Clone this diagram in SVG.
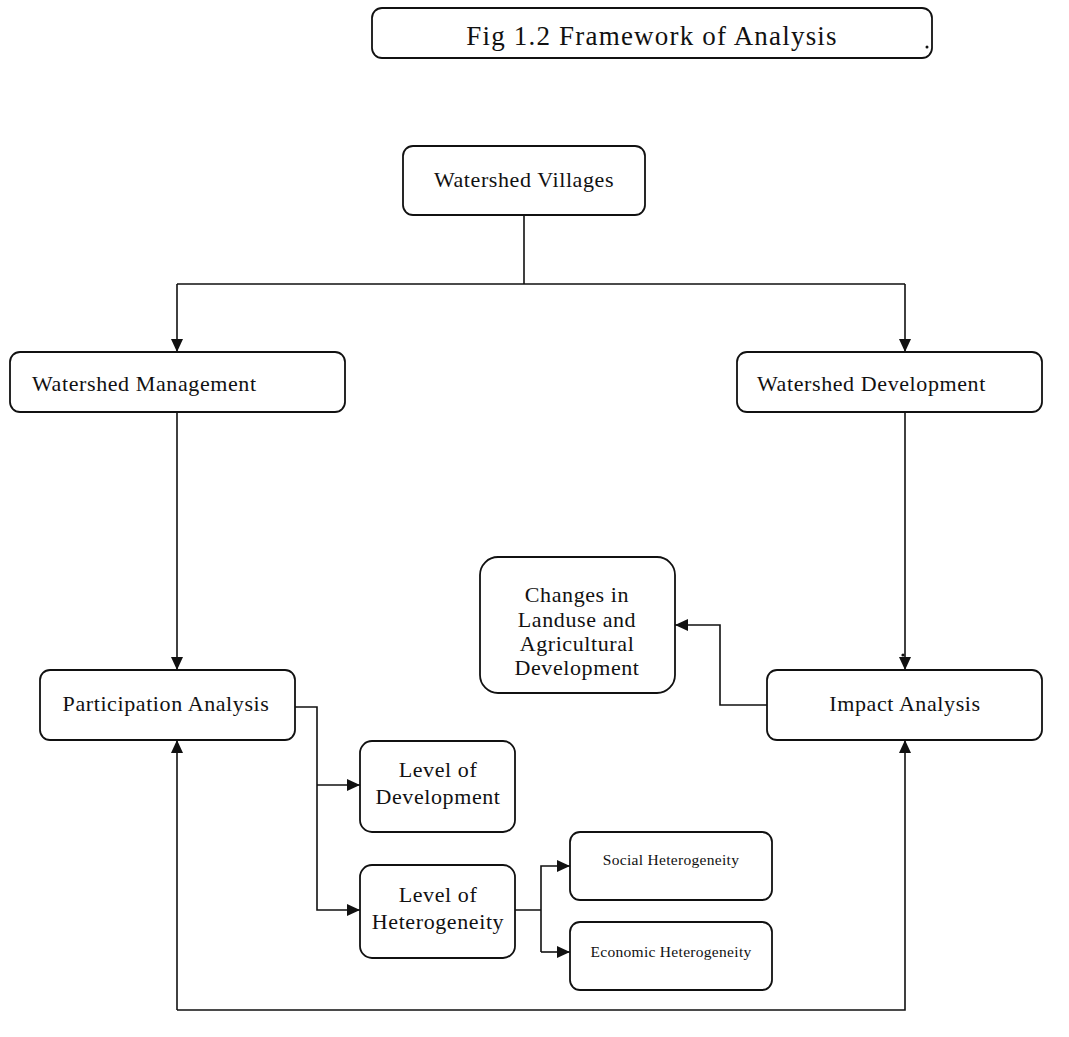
<svg xmlns="http://www.w3.org/2000/svg" width="1069" height="1037" viewBox="0 0 1069 1037">
<style>
.box{fill:#fff;stroke:#111;stroke-width:1.8}
.t{font-family:"Liberation Serif","Times New Roman",serif;fill:#111;text-anchor:middle}
.n{font-size:22px;letter-spacing:0.6px}
.s{font-size:15.5px;letter-spacing:0.3px}
.c{fill:none;stroke:#111;stroke-width:1.6}
</style>
<defs>
<marker id="ah" markerUnits="userSpaceOnUse" markerWidth="14" markerHeight="12" refX="13" refY="6" orient="auto">
<path d="M0,0 L13,6 L0,12 Z" fill="#111"/>
</marker>
</defs>
<rect width="1069" height="1037" fill="#fff"/>
<g id="title">
<rect class="box" x="372" y="8" width="560" height="50" rx="10"/>
<text class="t" x="652" y="45" font-size="27" letter-spacing="1.2">Fig 1.2 Framework of Analysis</text>
<circle cx="927" cy="47" r="1.5" fill="#111"/>
</g>
<g id="connectors">
<path class="c" d="M524,215 V284 M177,284 H905"/>
<path class="c" d="M177,284 V352" marker-end="url(#ah)"/>
<path class="c" d="M905,284 V352" marker-end="url(#ah)"/>
<path class="c" d="M177,412 V670" marker-end="url(#ah)"/>
<path class="c" d="M905,412 V670" marker-end="url(#ah)"/>
<path class="c" d="M767,705 H720 V625 H675" marker-end="url(#ah)"/>
<path class="c" d="M295,707 H317 V910 H360" marker-end="url(#ah)"/>
<path class="c" d="M317,785 H360" marker-end="url(#ah)"/>
<path class="c" d="M515,910 H541 M541,952 V866 H570" marker-end="url(#ah)"/>
<path class="c" d="M541,952 H570" marker-end="url(#ah)"/>
<path class="c" d="M177,1010 V740" marker-end="url(#ah)"/>
<path class="c" d="M177,1010 H905 V740" marker-end="url(#ah)"/>
<circle cx="903" cy="655" r="1.6" fill="#111"/>
</g>
<g id="watershed-villages">
<rect class="box" x="403" y="146" width="242" height="69" rx="10"/>
<text class="t n" x="524" y="187">Watershed Villages</text>
</g>
<g id="watershed-management">
<rect class="box" x="10" y="352" width="335" height="60" rx="10"/>
<text class="t n" x="32" y="391" style="text-anchor:start">Watershed Management</text>
</g>
<g id="watershed-development">
<rect class="box" x="737" y="352" width="305" height="60" rx="10"/>
<text class="t n" x="757" y="391" style="text-anchor:start">Watershed Development</text>
</g>
<g id="changes">
<rect class="box" x="480" y="557" width="195" height="136" rx="18"/>
<text class="t n" x="577" y="602">Changes in</text>
<text class="t n" x="577" y="627">Landuse and</text>
<text class="t n" x="577" y="651">Agricultural</text>
<text class="t n" x="577" y="675">Development</text>
</g>
<g id="participation-analysis">
<rect class="box" x="40" y="670" width="255" height="70" rx="10"/>
<text class="t n" x="166" y="711">Participation Analysis</text>
</g>
<g id="impact-analysis">
<rect class="box" x="767" y="670" width="275" height="70" rx="10"/>
<text class="t n" x="905" y="711">Impact Analysis</text>
</g>
<g id="level-development">
<rect class="box" x="360" y="741" width="155" height="91" rx="12"/>
<text class="t n" x="438" y="777">Level of</text>
<text class="t n" x="438" y="804">Development</text>
</g>
<g id="level-heterogeneity">
<rect class="box" x="360" y="865" width="155" height="93" rx="12"/>
<text class="t n" x="438" y="902">Level of</text>
<text class="t n" x="438" y="929">Heterogeneity</text>
</g>
<g id="social-heterogeneity">
<rect class="box" x="570" y="832" width="202" height="68" rx="10"/>
<text class="t s" x="671" y="865">Social Heterogeneity</text>
</g>
<g id="economic-heterogeneity">
<rect class="box" x="570" y="922" width="202" height="68" rx="10"/>
<text class="t s" x="671" y="957">Economic Heterogeneity</text>
</g>
</svg>
